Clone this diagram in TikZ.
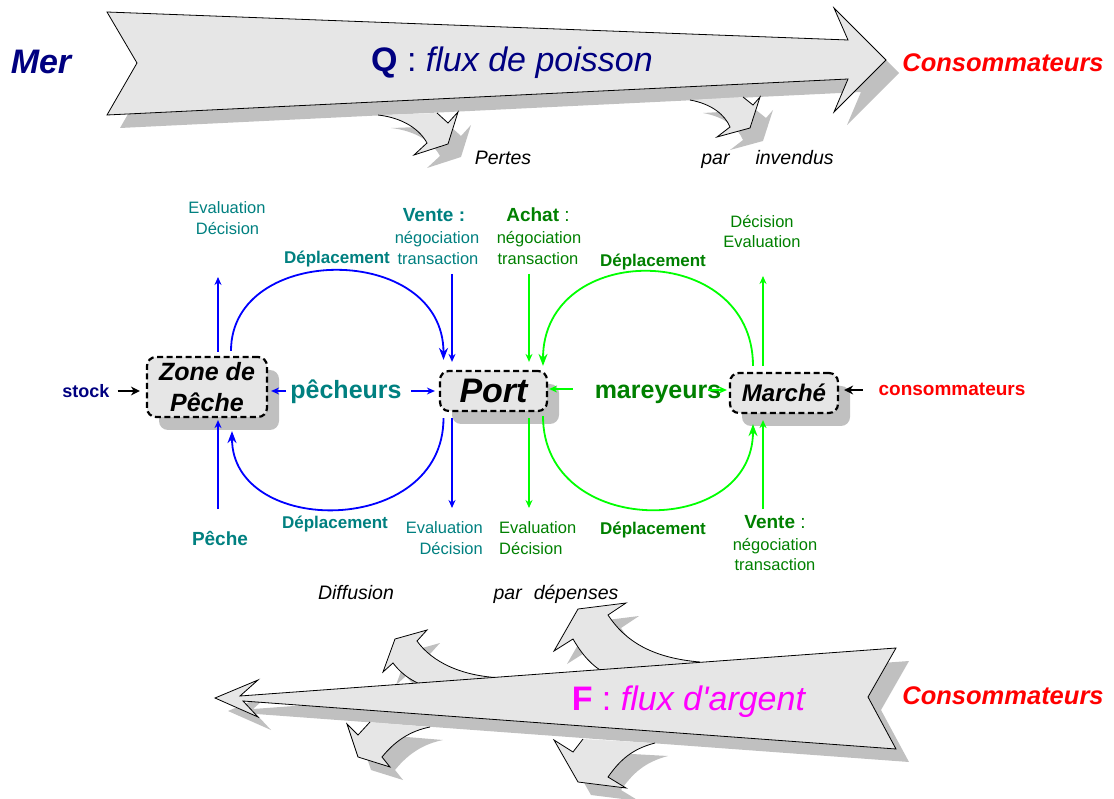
\documentclass[tikz,border=0pt]{standalone}
\usepackage{fontspec}
\setmainfont{Liberation Sans}[Ligatures=TeXOff]
\usetikzlibrary{arrows.meta,calc,shadows}
\definecolor{navyc}{RGB}{0,0,128}
\definecolor{tealc}{RGB}{0,128,128}
\definecolor{dgreen}{RGB}{0,128,0}
\definecolor{bgreen}{RGB}{0,255,0}
\definecolor{bblue}{RGB}{0,0,255}
\definecolor{redc}{RGB}{255,0,0}
\definecolor{magc}{RGB}{255,0,255}
\definecolor{fillc}{RGB}{230,230,230}
\definecolor{shadc}{RGB}{192,192,192}
\newcommand\fs[1]{\fontsize{#1}{#1}\selectfont}
% big arrow outlines
\newcommand\TopMain{(107,12) -- (848,40) -- (834,8) -- (886,60) -- (834,112) -- (848,79) -- (107,115) -- (137,63) -- cycle}
\newcommand\TopBa{(378,115) .. controls (404,118) and (420,130) .. (427,143) -- (414,155) -- (448,144) -- (458,112) -- (448,123) -- (437,113)}
\newcommand\TopBb{(690,100) .. controls (712,104) and (725,115) .. (730,127) -- (717,137) -- (750,128) -- (760,97) -- (753,105) -- (743,97)}
\newcommand\BotMain{(240,696) -- (896,648) -- (868,697) -- (896,749) -- (243,701) -- (258,717) -- (215,698) -- (258,680) -- cycle}
\newcommand\BotBa{(420,684) .. controls (408,679) and (399,671) .. (393,663) -- (383,672) -- (395,639) -- (427,630) -- (417,641) .. controls (432,662) and (462,677) .. (505,678)}
\newcommand\BotBb{(600,670) .. controls (588,662) and (580,651) .. (573,639) -- (554,651) -- (578,609) -- (626,603) -- (608,615) .. controls (625,641) and (652,658) .. (700,662)}
\newcommand\BotBc{(370,722) -- (358,735) -- (347,724) -- (358,757) -- (390,767) -- (382,757) .. controls (395,741) and (410,731) .. (430,727)}
\newcommand\BotBd{(583,739) -- (573,752) -- (554,740) -- (578,782) -- (626,788) -- (608,777) .. controls (620,760) and (632,749) .. (655,743)}
\begin{document}
\begin{tikzpicture}[x=1pt,y=-1pt,
  lab/.style={anchor=base, inner sep=0pt},
  shd/.style={fill=shadc, shift={(13,13)}},
  bigline/.style={draw=black, line width=0.8pt, line join=miter},
  box/.style={draw=black, fill=fillc, dash pattern=on 6pt off 3.5pt, line width=2.2pt,
    rounded corners=9pt, inner sep=0pt,
    drop shadow={shadow xshift=12pt, shadow yshift=-13pt, opacity=1, fill=shadc}},
  barr/.style={bblue, line width=1.5pt, -{Stealth[length=8pt,width=7pt]}},
  barc/.style={bblue, line width=1.8pt, -{Stealth[length=12pt,width=9pt]}},
  garr/.style={bgreen, line width=1.5pt, -{Stealth[length=8pt,width=7pt]}},
  garc/.style={bgreen, line width=1.8pt, -{Stealth[length=12pt,width=9pt]}},
  karr/.style={black, line width=2.2pt, -{Stealth[length=9pt,width=9pt]}},
  small/.style={lab, font=\fs{16.5}},
  dep/.style={lab, font=\fs{17}\bfseries},
]
\useasboundingbox (0,0) rectangle (1114,799);

% ---------- shadows of big arrows ----------
\fill[shd] \TopMain;
\fill[shd] \TopBa -- cycle;
\fill[shd] \TopBb -- cycle;
\fill[shd] \BotMain;
\fill[shd] \BotBa -- cycle;
\fill[shd] \BotBb -- cycle;
\fill[shd] \BotBc -- cycle;
\fill[shd] \BotBd -- cycle;

% ---------- branches ----------
\fill[fillc] \TopBa -- cycle; \draw[bigline] \TopBa;
\fill[fillc] \TopBb -- cycle; \draw[bigline] \TopBb;
\fill[fillc] \BotBa -- cycle; \draw[bigline] \BotBa;
\fill[fillc] \BotBb -- cycle; \draw[bigline] \BotBb;
\fill[fillc] \BotBc -- cycle; \draw[bigline] \BotBc;
\fill[fillc] \BotBd -- cycle; \draw[bigline] \BotBd;

% ---------- main arrows ----------
\filldraw[fill=fillc, bigline] \TopMain;
\filldraw[fill=fillc, bigline] \BotMain;

% ---------- big arrow texts ----------
\node[lab, navyc, font=\fs{34}\bfseries\itshape] (mer) at (41,74) {Mer};
\node[lab, navyc, font=\fs{34}] (qflux) at (512,72) {\textbf{Q} : \textit{flux de poisson}};
\node[lab, redc, font=\fs{25.5}\bfseries\itshape] (consT) at (1003,72) {Consommateurs};
\node[lab, font=\fs{19.5}\itshape] (pertes) at (503,165) {Pertes};
\node[lab, font=\fs{19.5}\itshape] (invend) at (767.5,165) {par\hspace{26pt}invendus};
\node[lab, font=\fs{19.5}\itshape] (diff) at (356,599) {Diffusion};
\node[lab, font=\fs{19.5}\itshape] (depen) at (556,599) {par\hspace{12pt}dépenses};
\node[lab, magc, font=\fs{34}] (fflux) at (689,710) {\textbf{F} : \textit{flux d'argent}};
\node[lab, redc, font=\fs{25.5}\bfseries\itshape] (consB) at (1003,704) {Consommateurs};

% ---------- boxes ----------
\node[box, minimum width=120pt, minimum height=60pt, align=center,
  font=\fontsize{25}{30.5}\selectfont\bfseries\itshape] (zone) at (207,387) {Zone de\\Pêche};
\node[box, minimum width=107pt, minimum height=40pt,
  font=\fs{34}\bfseries\itshape] (port) at (493.5,391) {Port};
\node[box, minimum width=108pt, minimum height=40pt, text height=17pt, text depth=0pt,
  font=\fs{24}\bfseries\itshape] (marche) at (784,393) {Marché};

% ---------- middle labels ----------
\node[lab, navyc, font=\fs{18}\bfseries] (stock) at (86,397.5) {stock};
\node[lab, tealc, font=\fs{25}\bfseries] (pech) at (346,399) {pêcheurs};
\node[lab, dgreen, font=\fs{25}\bfseries] (marey) at (658,399) {mareyeurs};
\node[lab, redc, font=\fs{19}\bfseries] (conso) at (952,396) {consommateurs};

\node[small, tealc] (ez1) at (227,214) {Evaluation};
\node[small, tealc] (ez2) at (227.5,235) {Décision};
\node[dep, tealc] (dz1) at (337,264) {Déplacement};
\node[lab, tealc, font=\fs{19}\bfseries] (vt1) at (434,222) {Vente :};
\node[small, tealc] (vt2) at (437,244) {négociation};
\node[small, tealc] (vt3) at (438,265) {transaction};
\node[lab, dgreen, font=\fs{19}] (ac1) at (538,222) {\textbf{Achat} :};
\node[small, dgreen] (ac2) at (539,244) {négociation};
\node[small, dgreen] (ac3) at (538,265) {transaction};
\node[dep, dgreen] (dg1) at (653,267) {Déplacement};
\node[small, dgreen] (dm1) at (762,228) {Décision};
\node[small, dgreen] (dm2) at (762,248) {Evaluation};

\node[lab, tealc, font=\fs{19}\bfseries] (peche) at (220,545) {Pêche};
\node[dep, tealc] (dz2) at (335,528) {Déplacement};
\node[small, tealc, anchor=base east] (ep1) at (483,533) {Evaluation};
\node[small, tealc, anchor=base east] (ep2) at (483,554) {Décision};
\node[small, dgreen, anchor=base west] (eg1) at (499,533) {Evaluation};
\node[small, dgreen, anchor=base west] (eg2) at (499,554) {Décision};
\node[dep, dgreen] (dg2) at (653,534) {Déplacement};
\node[lab, dgreen, font=\fs{19}] (vm1) at (775,528) {\textbf{Vente} :};
\node[small, dgreen] (vm2) at (775,550) {négociation};
\node[small, dgreen] (vm3) at (775,570) {transaction};

% ---------- free ends ----------
\coordinate (zT) at (218,277);
\coordinate (zB) at (218,509);
\coordinate (pT) at (452,274);
\coordinate (pB) at (452,508);
\coordinate (gT) at (529,274);
\coordinate (gB) at (529,508);
\coordinate (mT) at (763,276);
\coordinate (mB) at (763,509);

% ---------- connectors ----------
\draw[karr] ($(stock.base east)+(8,-6.5)$) -- ($(zone.west)+(-6,4)$);
\draw[barr] ($(pech.base west)+(-4,-8)$) -- ($(zone.east)+(3,4)$);
\draw[barr] ($(pech.base east)+(9.5,-8)$) -- ($(port.west)+(-4,0)$);
\draw[garr] ($(marey.base west)+(-22,-10)$) -- ($(port.east)+(1,-2)$);
\draw[garr] ($(marey.base east)+(-13,-9)$) -- ($(marche.west)+(-2,-3)$);
\draw[karr] ($(conso.base west)+(-15.6,-6)$) -- ($(marche.east)+(5,-3)$);

\draw[barr] ($(zone.north)+(11,-4)$) -- (zT);
\draw[barr] (zB) -- ($(zone.south)+(11,2)$);
\draw[barr] (pT) -- ($(port.north)+(-41.5,-8)$);
\draw[barr] ($(port.south)+(-41.5,6)$) -- (pB);
\draw[garr] (gT) -- ($(port.north)+(35.5,-8)$);
\draw[garr] ($(port.south)+(35.5,6)$) -- (gB);
\draw[garr] ($(marche.north)+(-21,-6)$) -- (mT);
\draw[garr] (mB) -- ($(marche.south)+(-21,6)$);

\draw[barc] ($(zone.north)+(24,-5)$) .. controls (231,242.5) and (443.5,242.5) .. ($(port.north)+(-50,-10)$);
\draw[barc] ($(port.south)+(-50,6)$) .. controls (443.5,537.5) and (232,537.5) .. ($(zone.south)+(25,13)$);
\draw[garc] ($(marche.north)+(-31,-6)$) .. controls (753,240.3) and (543,240.3) .. ($(port.north)+(49.5,-4)$);
\draw[garc] ($(port.south)+(49.5,4)$) .. controls (543,539) and (753,539) .. ($(marche.south)+(-31,10)$);
\end{tikzpicture}
\end{document}
